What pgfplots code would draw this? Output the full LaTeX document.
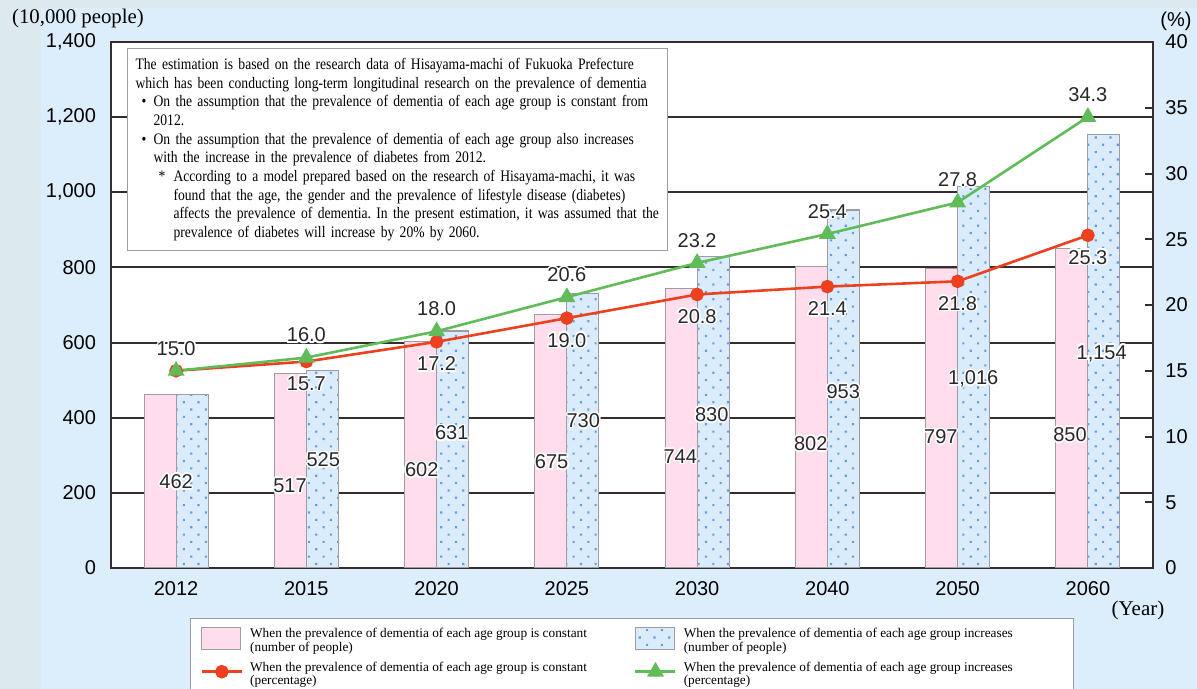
\documentclass[border=0pt]{standalone}
\usepackage{pgfplots}
\pgfplotsset{compat=1.18}
\usetikzlibrary{patterns.meta}
\usepackage{fontspec}
\setmainfont{Liberation Serif}
\newfontfamily\arial{Liberation Sans}
\newfontfamily\notefont{Liberation Serif}[FakeStretch=0.85]

\definecolor{bgmain}{RGB}{220,237,251}
\definecolor{bgstrip}{RGB}{220,234,240}
\definecolor{pinkbar}{RGB}{255,221,237}
\definecolor{bluebar}{RGB}{218,236,252}
\definecolor{bluedot}{RGB}{100,158,222}
\definecolor{barline}{RGB}{160,155,160}
\definecolor{redline}{RGB}{236,64,30}
\definecolor{greenline}{RGB}{96,188,88}
\definecolor{gridc}{RGB}{55,45,45}
\definecolor{labelc}{RGB}{40,40,40}

% dark text with a thin white outline
\newcommand\halo[1]{{\setbox0=\hbox{#1}%
  \color{white}%
  \rlap{\kern-0.8pt\copy0}\rlap{\kern0.8pt\copy0}%
  \rlap{\raise0.8pt\copy0}\rlap{\lower0.8pt\copy0}%
  \rlap{\kern-0.6pt\raise0.6pt\copy0}\rlap{\kern0.6pt\raise0.6pt\copy0}%
  \rlap{\kern-0.6pt\lower0.6pt\copy0}\rlap{\kern0.6pt\lower0.6pt\copy0}%
  \color{labelc}\box0}}

\newcommand\numfont{\arial\fontsize{10}{12}\selectfont}
\newcommand\legfont{\fontsize{6.65}{6.8}\selectfont}

\tikzset{barlbl/.style={font=\numfont, inner sep=0pt}}
\pgfplotsset{
  dotted bar/.style={fill=bluebar, draw=barline, line width=0.6pt,
    postaction={pattern color=bluedot, pattern={Dots[distance=5.2pt, angle=45, radius=0.75pt]}}},
  plain bar/.style={fill=pinkbar, draw=barline, line width=0.6pt},
  barleg/.style={legend image code/.code={\draw[##1] (0pt,-5.5pt) rectangle (19.5pt,5.5pt);}},
  lineleg/.style={legend image code/.code={\draw[##1, mark repeat=2, mark phase=2]
      plot coordinates {(0pt,0pt) (10pt,0pt) (20pt,0pt)};}},
}

\begin{document}
\frenchspacing
\begin{tikzpicture}
\path[use as bounding box] (-55.5pt,-60.5pt) rectangle (543pt,284pt);
\fill[bgmain] (-55.5pt,-60.5pt) rectangle (543pt,284pt);
\fill[bgstrip] (-55.5pt,-60.5pt) rectangle (-35pt,284pt);
\fill[bgstrip] (-55.5pt,280pt) rectangle (543pt,284pt);

% number of people (bars)
\begin{axis}[
  at={(0,0)}, anchor=south west,
  scale only axis, width=521pt, height=263pt,
  xmin=-0.5, xmax=7.5, ymin=0, ymax=1400,
  axis background/.style={fill=white},
  axis line style={gridc, line width=1.2pt},
  xtick={0,...,7},
  xticklabels={2012,2015,2020,2025,2030,2040,2050,2060},
  ytick={0,200,...,1400},
  ytick pos=left,
  tick style={draw=none},
  ymajorgrids, grid style={gridc, line width=1pt},
  /pgf/number format/1000 sep={,},
  /pgf/number format/assume math mode=true,
  tick label style={font=\numfont, text=black},
  xticklabel style={yshift=-3pt},
  yticklabel style={xshift=-4pt},
]
\addplot[ybar, bar width=16pt, bar shift=-8pt, plain bar]
  coordinates {(0,462) (1,517) (2,602) (3,675) (4,744) (5,802) (6,797) (7,850)};
\addplot[ybar, bar width=16pt, bar shift=8pt, dotted bar]
  coordinates {(0,462) (1,525) (2,631) (3,730) (4,830) (5,953) (6,1016) (7,1154)};

% values of the bars
\node[barlbl] at (axis cs:0,230) {\halo{462}};
\node[barlbl] at (axis cs:0.874,219) {\halo{517}};
\node[barlbl] at (axis cs:1.886,261) {\halo{602}};
\node[barlbl] at (axis cs:2.883,282) {\halo{675}};
\node[barlbl] at (axis cs:3.870,297) {\halo{744}};
\node[barlbl] at (axis cs:4.872,331) {\halo{802}};
\node[barlbl] at (axis cs:5.871,349) {\halo{797}};
\node[barlbl] at (axis cs:6.863,355) {\halo{850}};
\node[barlbl] at (axis cs:1.13,288) {\halo{525}};
\node[barlbl] at (axis cs:2.116,359) {\halo{631}};
\node[barlbl] at (axis cs:3.126,392) {\halo{730}};
\node[barlbl] at (axis cs:4.112,408) {\halo{830}};
\node[barlbl] at (axis cs:5.122,470) {\halo{953}};
\node[barlbl] at (axis cs:6.12,503) {\halo{1,016}};
\node[barlbl] at (axis cs:7.106,571) {\halo{1,154}};
\end{axis}

% explanatory note
\node[draw=barline, line width=0.6pt, fill=white, anchor=north west,
      inner xsep=4pt, inner ysep=4pt, text width=262pt, minimum height=101pt,
      font=\notefont\fontsize{8}{9.35}\selectfont, align=left]
  at (8pt,260pt) {%
The estimation is based on the research data of Hisayama-machi of Fukuoka Prefecture\\
which has been conducting long-term longitudinal research on the prevalence of dementia\\
\makebox[9pt][l]{\hspace{3pt}\textbullet}On the assumption that the prevalence of dementia of each age group is constant from\\
\hspace*{9pt}2012.\\
\makebox[9pt][l]{\hspace{3pt}\textbullet}On the assumption that the prevalence of dementia of each age group also increases\\
\hspace*{9pt}with the increase in the prevalence of diabetes from 2012.\\
\hspace*{11.5pt}\makebox[7.5pt][l]{*}According to a model prepared based on the research of Hisayama-machi, it was\\
\hspace*{19pt}found that the age, the gender and the prevalence of lifestyle disease (diabetes)\\
\hspace*{19pt}affects the prevalence of dementia. In the present estimation, it was assumed that the\\
\hspace*{19pt}prevalence of diabetes will increase by 20\% by 2060.};

% percentages (lines)
\begin{axis}[
  at={(0,0)}, anchor=south west,
  scale only axis, width=521pt, height=263pt,
  xmin=-0.5, xmax=7.5, ymin=0, ymax=40,
  axis x line=none, axis y line*=right,
  axis line style={gridc, line width=1.2pt},
  ytick={0,5,...,40},
  tick align=inside, major tick length=4pt,
  ytick style={gridc, line width=1pt},
  /pgf/number format/assume math mode=true,
  tick label style={font=\numfont, text=black},
  yticklabel style={xshift=2.7pt},
  point meta=explicit symbolic,
  nodes near coords={\halo{\pgfplotspointmeta}},
  legend columns=2,
  legend style={at={(axis description cs:0.0758,-0.0951)}, anchor=north west,
    draw=barline, line width=0.6pt, fill=white, font=\legfont,
    inner xsep=5pt, inner ysep=3pt, row sep=3pt,
    /tikz/every odd column/.append style={column sep=1.5pt},
    /tikz/every even column/.append style={column sep=8pt}},
  legend cell align=left,
]
\addlegendimage{plain bar, barleg}
\addlegendentry{\parbox{182pt}{When the prevalence of dementia of each age group is constant\\(number of people)}}
\addlegendimage{dotted bar, barleg}
\addlegendentry{\parbox{188pt}{When the prevalence of dementia of each age group increases\\(number of people)}}

\addplot[redline, line width=1.3pt, mark=*, mark size=2.75pt,
  mark options={fill=redline, draw=redline}, lineleg,
  every node near coord/.append style={font=\numfont, inner sep=0pt, anchor=center, yshift=-11pt}]
  coordinates {(0,15.0) [] (1,15.7) [15.7] (2,17.2) [17.2] (3,19.0) [19.0]
               (4,20.8) [20.8] (5,21.4) [21.4] (6,21.8) [21.8] (7,25.3) [25.3]};
\addlegendentry{\parbox{182pt}{When the prevalence of dementia of each age group is constant\\(percentage)}}

\addplot[greenline, line width=1.3pt, mark=triangle*, mark size=3.6pt,
  mark options={fill=greenline, draw=greenline}, lineleg,
  every node near coord/.append style={font=\numfont, inner sep=0pt, anchor=center, yshift=11.3pt}]
  coordinates {(0,15.0) [15.0] (1,16.0) [16.0] (2,18.0) [18.0] (3,20.6) [20.6]
               (4,23.2) [23.2] (5,25.4) [25.4] (6,27.8) [27.8] (7,34.3) [34.3]};
\addlegendentry{\parbox{188pt}{When the prevalence of dementia of each age group increases\\(percentage)}}
\end{axis}

\node[font=\fontsize{10.4}{12}\selectfont] at (-16.5pt,274.5pt) {(10,000 people)};
\node[font=\arial\fontsize{10}{12}\selectfont] at (532.5pt,273.5pt) {(\%)};
\node[font=\fontsize{10.5}{12}\selectfont] at (513.5pt,-21pt) {(Year)};
\end{tikzpicture}
\end{document}
